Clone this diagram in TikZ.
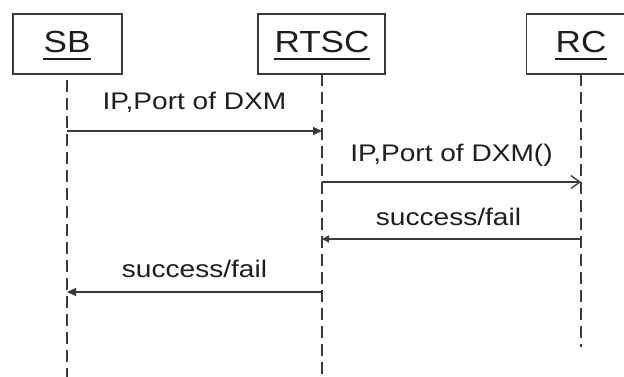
\documentclass[tikz,border=0pt]{standalone}
\usepackage{fontspec}
\setmainfont{Liberation Sans}
\usetikzlibrary{arrows.meta}
\definecolor{ink}{HTML}{1E1E1E}
\definecolor{linec}{HTML}{3A3A3A}
\begin{document}
\begin{tikzpicture}[x=1pt,y=-1pt,
  hdrbox/.style={draw=linec, line width=1.2pt, minimum height=60pt, inner sep=0pt},
  hdrtxt/.style={inner sep=0pt, anchor=base, text=ink, font=\fontsize{30.5}{36}\selectfont},
  ul/.style={draw=ink, line width=2pt},
  life/.style={draw=linec, line width=1.2pt, dash pattern=on 12pt off 6pt},
  msg/.style={draw=linec, line width=1.3pt},
  lbl/.style={inner sep=0pt, anchor=base, text=ink, font=\fontsize{24}{28}\selectfont}]
\useasboundingbox (0,0) rectangle (624,377);
\clip (0,0) rectangle (624,377);
\fill[white] (0,0) rectangle (624,377);
% header boxes
\node[hdrbox, minimum width=109pt] (sbbox) at (67.5,44) {};
\node[hdrbox, minimum width=127pt] (rtbox) at (321.5,44) {};
\node[hdrbox, minimum width=109pt] (rcbox) at (581,44) {};
% header texts
\node[hdrtxt] (sbt) at (67,53) {\scalebox{1.15}[1]{SB}};
\node[hdrtxt] (rtt) at (322,53) {\scalebox{1.15}[1]{RTSC}};
\node[hdrtxt] (rct) at (581,53) {\scalebox{1.15}[1]{RC}};
\draw[ul] ([yshift=-6pt]sbt.base west) -- ([yshift=-6pt]sbt.base east);
\draw[ul] ([yshift=-6pt]rtt.base west) -- ([yshift=-6pt]rtt.base east);
\draw[ul] ([yshift=-6pt]rct.base west) -- ([yshift=-6pt]rct.base east);
% lifelines
\coordinate (sbend) at (67,380);
\coordinate (rtend) at (322,380);
\coordinate (rcend) at (581,347);
\draw[life, dash phase=-6pt] (67,74) -- (sbend);
\draw[life] (322,74) -- (rtend);
\draw[life] (581,74) -- (rcend);
% message anchors
\coordinate (sb1) at (67,131);  \coordinate (rt1) at (322,131);
\coordinate (rt2) at (322,182); \coordinate (rc2) at (581,182);
\coordinate (rc3) at (581,239); \coordinate (rt3) at (322,239);
\coordinate (rt4) at (322,292); \coordinate (sb4) at (67,292);
% messages
\draw[msg, -{Triangle[length=9pt,width=8pt]}] (sb1) -- (rt1)
  node[lbl, midway, yshift=21pt] (l1) {\scalebox{1.17}[1]{IP,Port of DXM}};
\draw[msg, -{Straight Barb[length=9pt,width=13pt,line width=1.3pt]}] (rt2) -- (rc2)
  node[lbl, midway, yshift=20pt] (l2) {\scalebox{1.17}[1]{IP,Port of DXM()}};
\draw[msg, -{Triangle[length=7pt,width=7pt]}] (rc3) -- (rt3)
  node[lbl, midway, xshift=-3pt, yshift=14pt] (l3) {\scalebox{1.17}[1]{success/fail}};
\draw[msg, -{Triangle[length=9pt,width=8pt]}] (rt4) -- (sb4)
  node[lbl, midway, yshift=15pt] (l4) {\scalebox{1.17}[1]{success/fail}};
\end{tikzpicture}
\end{document}
